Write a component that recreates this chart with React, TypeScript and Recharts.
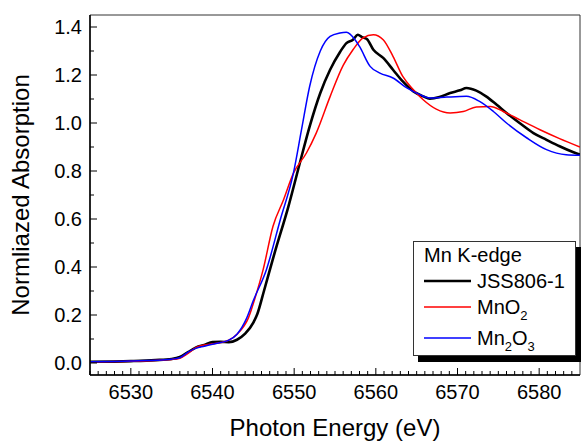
import { Legend, Line, LineChart, ReferenceArea, XAxis, YAxis } from 'recharts';

const FONT = '"Liberation Sans", Arial, Helvetica, sans-serif';

// Mn K-edge XANES, photon energy (eV) vs normalized absorption
const jssEnergy = [
  6525, 6530, 6533, 6535, 6536, 6537, 6538, 6539, 6540, 6541, 6542, 6543, 6544, 6545, 6545.5, 6546.3,
  6547.6, 6549.3, 6550.8, 6551.9, 6553.2, 6554.4, 6555.6, 6556.4, 6557.2, 6557.8, 6558.3, 6558.9,
  6559.7, 6560.9, 6562.1, 6563.3, 6564.6, 6565.8, 6566.6, 6567.8, 6569.1, 6570.3, 6571.1, 6572.3,
  6573.5, 6574.8, 6576.0, 6577.6, 6579.3, 6580.9, 6582.5, 6584.2, 6585
];
const jssAbs = [
  0.005, 0.008, 0.012, 0.017, 0.025, 0.045, 0.065, 0.075, 0.087, 0.088, 0.087, 0.097, 0.122, 0.168, 0.205, 0.3,
  0.458, 0.653, 0.847, 0.986, 1.125, 1.222, 1.295, 1.333, 1.347, 1.368, 1.358, 1.35,
  1.305, 1.271, 1.222, 1.173, 1.132, 1.111, 1.101, 1.108, 1.125, 1.136, 1.146, 1.135,
  1.111, 1.076, 1.042, 1.0, 0.958, 0.93, 0.903, 0.878, 0.868
];

const mno2Energy = [
  6525, 6530, 6535, 6536, 6537, 6538, 6539, 6540, 6541, 6542, 6543, 6544.4, 6545.2, 6546.2, 6547.4,
  6548.7, 6549.9, 6551.5, 6552.7, 6554.4, 6556.0, 6557.2, 6558.4, 6559.7, 6560.9, 6562.1, 6563.3,
  6564.6, 6565.8, 6567.4, 6569.1, 6570.7, 6572.3, 6574.0, 6575.6, 6577.6, 6580.1, 6582.5, 6585
];
const mno2Abs = [
  0.005, 0.007, 0.015, 0.02, 0.04, 0.065, 0.075, 0.08, 0.085, 0.095, 0.12, 0.188, 0.27, 0.389, 0.569,
  0.68, 0.79, 0.875, 0.958, 1.11, 1.24, 1.305, 1.354, 1.368, 1.347, 1.278, 1.194,
  1.139, 1.097, 1.058, 1.042, 1.048, 1.067, 1.069, 1.048, 1.014, 0.972, 0.935, 0.9
];

const mn2o3Energy = [
  6525, 6530, 6535, 6536, 6537, 6538, 6539, 6540, 6541, 6542, 6543, 6544.2, 6545, 6546.6, 6548.3,
  6549.9, 6550.9, 6551.9, 6553.2, 6554.4, 6555.6, 6556.4, 6557.5, 6558.0, 6559.3, 6560.5, 6562.1,
  6563.8, 6565.4, 6566.6, 6568.7, 6571.1, 6572.7, 6574.4, 6576.0, 6578.5, 6580.9, 6583.3, 6585
];
const mn2o3Abs = [
  0.005, 0.008, 0.016, 0.022, 0.045, 0.062, 0.07, 0.078, 0.085, 0.095, 0.12, 0.188, 0.26, 0.389, 0.597,
  0.79, 0.972, 1.153, 1.3, 1.361, 1.375, 1.378, 1.345, 1.319, 1.236, 1.208, 1.1875,
  1.146, 1.118, 1.104, 1.108, 1.111, 1.09, 1.048, 1.0, 0.9375, 0.889, 0.868, 0.866
];

const xTicks = [
  6525, 6526, 6527, 6528, 6529, 6530, 6531, 6532, 6533, 6534, 6535, 6536, 6537, 6538, 6539, 6540,
  6541, 6542, 6543, 6544, 6545, 6546, 6547, 6548, 6549, 6550, 6551, 6552, 6553, 6554, 6555, 6556,
  6557, 6558, 6559, 6560, 6561, 6562, 6563, 6564, 6565, 6566, 6567, 6568, 6569, 6570, 6571, 6572,
  6573, 6574, 6575, 6576, 6577, 6578, 6579, 6580, 6581, 6582, 6583, 6584
];
const yTicks = [0, 0.1, 0.2, 0.3, 0.4, 0.5, 0.6, 0.7, 0.8, 0.9, 1.0, 1.1, 1.2, 1.3, 1.4];

const zip = (xs: number[], ys: number[]) => xs.map((e, i) => ({ e, v: ys[i] }));

const series = [
  { key: 'jss', data: zip(jssEnergy, jssAbs), color: '#000000', width: 2.6 },
  { key: 'mno2', data: zip(mno2Energy, mno2Abs), color: '#ff0000', width: 1.5 },
  { key: 'mn2o3', data: zip(mn2o3Energy, mn2o3Abs), color: '#0000ff', width: 1.5 },
];

function XTick({ x, y, payload }: any) {
  const major = payload.value % 10 === 0;
  return (
    <g>
      <line x1={x} x2={x} y1={y} y2={y - (major ? 7 : 4)} stroke="#000" strokeWidth={1} />
      {major && (
        <text x={x} y={y + 24} textAnchor="middle" fontSize={20} fontFamily={FONT} fill="#000">
          {payload.value}
        </text>
      )}
    </g>
  );
}

function YTick({ x, y, payload }: any) {
  const major = Math.round(payload.value * 10) % 2 === 0;
  return (
    <g>
      <line x1={x} x2={x + (major ? 7 : 4)} y1={y} y2={y} stroke="#000" strokeWidth={1} />
      {major && (
        <text x={x - 8} y={y + 7} textAnchor="end" fontSize={20} fontFamily={FONT} fill="#000">
          {payload.value.toFixed(1)}
        </text>
      )}
    </g>
  );
}

function LegendBox() {
  const sub = (t: string) => (
    <tspan fontSize={13} dy={6}>
      {t}
    </tspan>
  );
  return (
    <div
      style={{
        width: 163,
        height: 115,
        boxSizing: 'border-box',
        border: '1px solid #333',
        background: '#fff',
        boxShadow: '5px 6px 0 #000',
      }}
    >
      <svg width={161} height={113} style={{ display: 'block' }}>
        <g fontFamily={FONT} fontSize={20} fill="#000">
          <text x={10} y={20}>Mn K-edge</text>
          <line x1={10} x2={57} y1={39} y2={39} stroke="#000" strokeWidth={2.6} />
          <text x={63} y={46}>JSS806-1</text>
          <line x1={10} x2={57} y1={65} y2={65} stroke="#ff0000" strokeWidth={1.5} />
          <text x={63} y={72}>
            MnO{sub('2')}
          </text>
          <line x1={10} x2={57} y1={96} y2={96} stroke="#0000ff" strokeWidth={1.5} />
          <text x={63} y={103}>
            Mn{sub('2')}
            <tspan dy={-6}>O</tspan>
            {sub('3')}
          </text>
        </g>
      </svg>
    </div>
  );
}

export default function App() {
  return (
    <div style={{ position: 'absolute', left: 0, top: 0, background: '#fff', fontFamily: FONT }}>
      <LineChart width={581} height={441} margin={{ top: 15, right: 1, bottom: 0, left: 0 }}>
        <ReferenceArea
          x1={6525}
          x2={6585}
          y1={-0.05}
          y2={1.45}
          fill="none"
          stroke="#333"
          strokeWidth={1}
          ifOverflow="visible"
        />
        <XAxis
          dataKey="e"
          type="number"
          domain={[6525, 6585]}
          allowDataOverflow
          ticks={xTicks}
          interval={0}
          height={66}
          tickSize={0}
          tickMargin={0}
          tickLine={false}
          axisLine={{ stroke: '#000', strokeWidth: 1.5 }}
          tick={XTick}
          label={() => (
            <text x={335} y={436} textAnchor="middle" fontSize={24} fontFamily={FONT} fill="#000">
              Photon Energy (eV)
            </text>
          )}
        />
        <YAxis
          dataKey="v"
          type="number"
          domain={[-0.05, 1.45]}
          allowDataOverflow
          ticks={yTicks}
          interval={0}
          width={90}
          tickSize={0}
          tickMargin={0}
          tickLine={false}
          axisLine={{ stroke: '#000', strokeWidth: 1.5 }}
          tick={YTick}
          label={() => (
            <text
              x={29}
              y={195}
              transform="rotate(-90 29 195)"
              textAnchor="middle"
              fontSize={24}
              fontFamily={FONT}
              fill="#000"
            >
              Normliazed Absorption
            </text>
          )}
        />
        {series.map((s) => (
          <Line
            key={s.key}
            data={s.data}
            dataKey="v"
            type="monotone"
            stroke={s.color}
            strokeWidth={s.width}
            dot={false}
            activeDot={false}
            isAnimationActive={false}
          />
        ))}
        <Legend
          layout="vertical"
          align="center"
          verticalAlign="middle"
          wrapperStyle={{ position: 'absolute', left: 413, top: 241, width: 163, height: 115 }}
          content={() => <LegendBox />}
        />
      </LineChart>
    </div>
  );
}
